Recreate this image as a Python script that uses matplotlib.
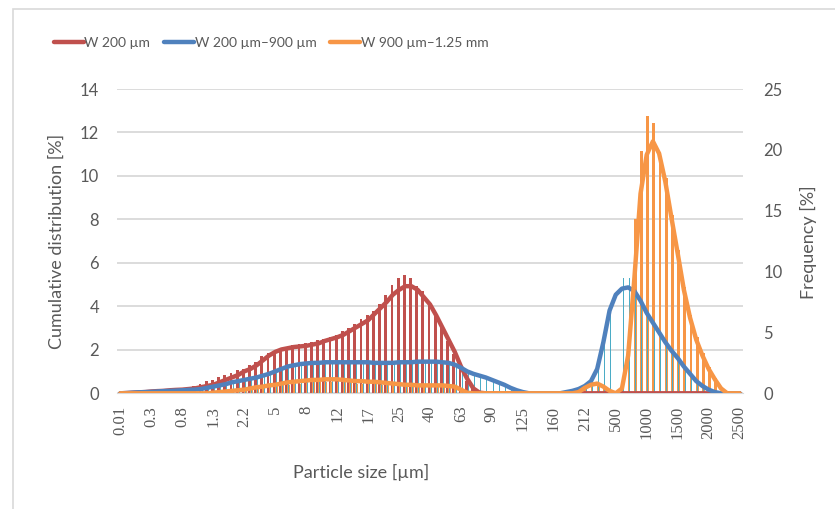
import numpy as np
import matplotlib.pyplot as plt
from matplotlib.patches import Rectangle

# x categories: 101 size classes, a label on every 5th one
size_labels = ['0.01', '0.3', '0.8', '1.3', '2.2', '5', '8', '12', '17', '25', '40',
               '63', '90', '125', '160', '212', '500', '1000', '1500', '2000', '2500']

# columns, left axis (cumulative distribution [%])
red_bars = [0, 0.02, 0.04, 0.06, 0.08, 0.1, 0.12, 0.14, 0.17, 0.2,
            0.25, 0.3, 0.35, 0.45, 0.55, 0.6, 0.75, 0.85, 0.95, 1.05,
            1.1, 1.3, 1.45, 1.7, 1.85, 1.95, 2.05, 2.1, 2.2, 2.25,
            2.3, 2.35, 2.45, 2.5, 2.6, 2.7, 2.85, 3.0, 3.2, 3.4,
            3.6, 3.8, 4.1, 4.5, 5.0, 5.3, 5.45, 5.3, 4.95, 4.7,
            4.2, 3.7, 3.1, 2.4, 1.8, 1.2, 0.55, 0.2, 0.05, 0,
            0, 0, 0, 0, 0, 0, 0, 0, 0, 0,
            0, 0, 0, 0, 0, 0, 0, 0, 0, 0,
            0, 0, 0, 0, 0, 0, 0, 0, 0, 0,
            0, 0, 0, 0, 0, 0, 0, 0, 0, 0,
            0]
blue_bars = [0, 0.01, 0.03, 0.04, 0.06, 0.07, 0.08, 0.1, 0.11, 0.12,
             0.14, 0.16, 0.17, 0.2, 0.25, 0.3, 0.36, 0.42, 0.5, 0.56,
             0.62, 0.68, 0.73, 0.82, 0.9, 1.0, 1.12, 1.23, 1.3, 1.35,
             1.38, 1.4, 1.4, 1.43, 1.43, 1.43, 1.43, 1.43, 1.43, 1.43,
             1.43, 1.4, 1.4, 1.4, 1.4, 1.43, 1.43, 1.43, 1.45, 1.45,
             1.45, 1.45, 1.43, 1.4, 1.32, 1.2, 1.05, 0.92, 0.83, 0.75,
             0.63, 0.52, 0.4, 0.27, 0.15, 0.06, 0, 0, 0, 0,
             0, 0, 0.06, 0.12, 0.2, 0.35, 0.6, 1.1, 2.35, 3.85,
             5.0, 5.3, 5.3, 4.7, 4.25, 3.7, 3.25, 2.8, 2.35, 1.95,
             1.6, 1.25, 0.9, 0.56, 0.34, 0.17, 0.06, 0, 0, 0,
             0]
orange_bars = [0, 0, 0, 0, 0, 0, 0, 0, 0, 0,
               0, 0, 0, 0, 0, 0.02, 0.04, 0.07, 0.09, 0.11,
               0.14, 0.18, 0.22, 0.25, 0.29, 0.32, 0.36, 0.4, 0.43, 0.45,
               0.47, 0.5, 0.5, 0.52, 0.52, 0.52, 0.5, 0.47, 0.45, 0.45,
               0.43, 0.43, 0.4, 0.38, 0.36, 0.34, 0.32, 0.32, 0.3, 0.3,
               0.3, 0.3, 0.3, 0.27, 0.25, 0.14, 0.02, 0, 0, 0,
               0, 0, 0, 0, 0, 0, 0, 0, 0, 0,
               0, 0, 0, 0, 0.05, 0.2, 0.3, 0.35, 0.25, 0.1,
               0, 0.3, 1.5, 8.0, 11.15, 12.75, 12.45, 11.1, 9.9, 8.2,
               6.6, 4.9, 3.6, 2.6, 1.85, 1.2, 0.7, 0.25, 0, 0,
               0]

# lines, right axis (frequency [%])
red_line = [0, 0.02, 0.05, 0.08, 0.1, 0.15, 0.18, 0.2, 0.25, 0.28,
            0.3, 0.35, 0.4, 0.5, 0.6, 0.7, 0.9, 1.1, 1.3, 1.5,
            1.8, 2.0, 2.3, 2.7, 3.1, 3.4, 3.6, 3.7, 3.8, 3.85,
            3.9, 4.0, 4.1, 4.3, 4.45, 4.6, 4.8, 5.1, 5.4, 5.7,
            6.0, 6.5, 7.0, 7.5, 8.1, 8.5, 8.8, 8.8, 8.5, 7.9,
            7.3, 6.4, 5.4, 4.4, 3.4, 2.2, 1.2, 0.4, 0.05, 0,
            0, 0, 0, 0, 0, 0, 0, 0, 0, 0,
            0, 0, 0, 0, 0, 0, 0, 0, 0, 0,
            0, 0, 0, 0, 0, 0, 0, 0, 0, 0,
            0, 0, 0, 0, 0, 0, 0, 0, 0, 0,
            0]
blue_line = [0, 0.02, 0.05, 0.08, 0.1, 0.12, 0.15, 0.18, 0.2, 0.22,
             0.25, 0.28, 0.3, 0.35, 0.45, 0.55, 0.65, 0.75, 0.9, 1.0,
             1.1, 1.2, 1.3, 1.45, 1.6, 1.8, 2.0, 2.2, 2.3, 2.4,
             2.45, 2.5, 2.5, 2.55, 2.55, 2.55, 2.55, 2.55, 2.55, 2.55,
             2.55, 2.5, 2.5, 2.5, 2.5, 2.55, 2.55, 2.55, 2.6, 2.6,
             2.6, 2.6, 2.55, 2.5, 2.35, 2.1, 1.8, 1.6, 1.45, 1.3,
             1.1, 0.9, 0.7, 0.45, 0.25, 0.1, 0, 0, 0, 0,
             0, 0, 0.1, 0.2, 0.35, 0.6, 1.0, 2.0, 4.2, 6.8,
             8.1, 8.6, 8.7, 8.4, 7.6, 6.6, 5.8, 5.0, 4.2, 3.5,
             2.9, 2.2, 1.6, 1.0, 0.6, 0.3, 0.1, 0, 0, 0,
             0]
orange_line = [0, 0, 0, 0, 0, 0, 0, 0, 0, 0,
               0, 0, 0, 0, 0, 0.05, 0.1, 0.15, 0.2, 0.25,
               0.3, 0.4, 0.5, 0.55, 0.65, 0.7, 0.8, 0.9, 0.95, 1.0,
               1.05, 1.1, 1.1, 1.15, 1.15, 1.15, 1.1, 1.05, 1.0, 1.0,
               0.95, 0.95, 0.9, 0.85, 0.8, 0.75, 0.7, 0.7, 0.65, 0.65,
               0.65, 0.65, 0.65, 0.6, 0.55, 0.3, 0.05, 0, 0, 0,
               0, 0, 0, 0, 0, 0, 0, 0, 0, 0,
               0, 0, 0, 0, 0.1, 0.45, 0.7, 0.8, 0.55, 0.2,
               0, 0.4, 3.1, 9.4, 16.4, 19.6, 20.7, 19.7, 17.4, 14.4,
               11.5, 8.5, 6.2, 4.4, 3.1, 2.0, 1.15, 0.4, 0, 0,
               0]

series_names = ['W 200 µm', 'W 200 µm\u2013900 µm', 'W 900 µm\u20131.25 mm']

RED = '#C0504D'
BLUE = '#4F81BD'
CYAN = '#4BACC6'
ORANGE = '#F79646'
GRID = '#D9D9D9'
TXT = '#595959'

plt.rcParams['font.family'] = ['Lato', 'DejaVu Sans']

fig = plt.figure(figsize=(8.35, 5.09), dpi=100)
ax = fig.add_axes([117.3 / 835, 1 - 393.3 / 509, 625.4 / 835, 304.3 / 509])
ax2 = ax.twinx()

x = np.arange(len(red_line))

ax.bar(x - 0.15, red_bars, width=0.45, color=RED, zorder=2)
ax.bar(x + 0.15, orange_bars, width=0.45, color=ORANGE, zorder=2)
ax.bar(x + 0.2, blue_bars, width=0.16, color=CYAN, zorder=3)

l1, = ax2.plot(x, red_line, color=RED, lw=3.2, solid_capstyle='round')
l2, = ax2.plot(x, blue_line, color=BLUE, lw=3.2, solid_capstyle='round')
l3, = ax2.plot(x, orange_line, color=ORANGE, lw=3.2, solid_capstyle='round')

ax.set_xlim(-0.5, len(x) - 0.5)
ax.set_ylim(0, 14)
ax2.set_ylim(0, 25)
ax.set_yticks(np.arange(0, 15, 2))
ax2.set_yticks(np.arange(0, 26, 5))
ax.set_xticks(np.arange(0, len(x), 5))
ax.set_xticklabels(size_labels, rotation=90, family='Liberation Serif',
                   fontsize=14, color='#262626')

ax.grid(axis='y', color=GRID, lw=1.3, zorder=0)
ax.set_axisbelow(True)
for a in (ax, ax2):
    for s in a.spines.values():
        s.set_visible(False)
    a.tick_params(length=0, labelsize=12, labelcolor=TXT)
ax.spines['bottom'].set_visible(True)
ax.spines['bottom'].set_color(GRID)
ax.tick_params(axis='x', pad=9)
ax.tick_params(axis='y', pad=13)
ax2.tick_params(axis='y', pad=15)

fig.text(57 / 835, 1 - 241 / 509, 'Cumulative distribution [%]', rotation=90,
         ha='center', va='center', fontsize=13, color=TXT)
fig.text(808 / 835, 1 - 242 / 509, 'Frequency [%]', rotation=90,
         ha='center', va='center', fontsize=13, color=TXT)
fig.text(361 / 835, 1 - 472 / 509, 'Particle size [µm]',
         ha='center', va='center', fontsize=13, color=TXT)

fig.legend([l1, l2, l3], series_names, loc='center', ncol=3,
           bbox_to_anchor=(271 / 835, 1 - 43 / 509), frameon=False,
           fontsize=10, labelcolor=TXT,
           handlelength=2.15, handletextpad=0.05, columnspacing=1.0)

# chart area border
fig.patches.append(Rectangle((13 / 835, -0.1), 1.2, 1.1 - 9 / 509,
                             transform=fig.transFigure, fill=False,
                             edgecolor=GRID, lw=1.2))

fig.savefig('out.png', dpi=100)
